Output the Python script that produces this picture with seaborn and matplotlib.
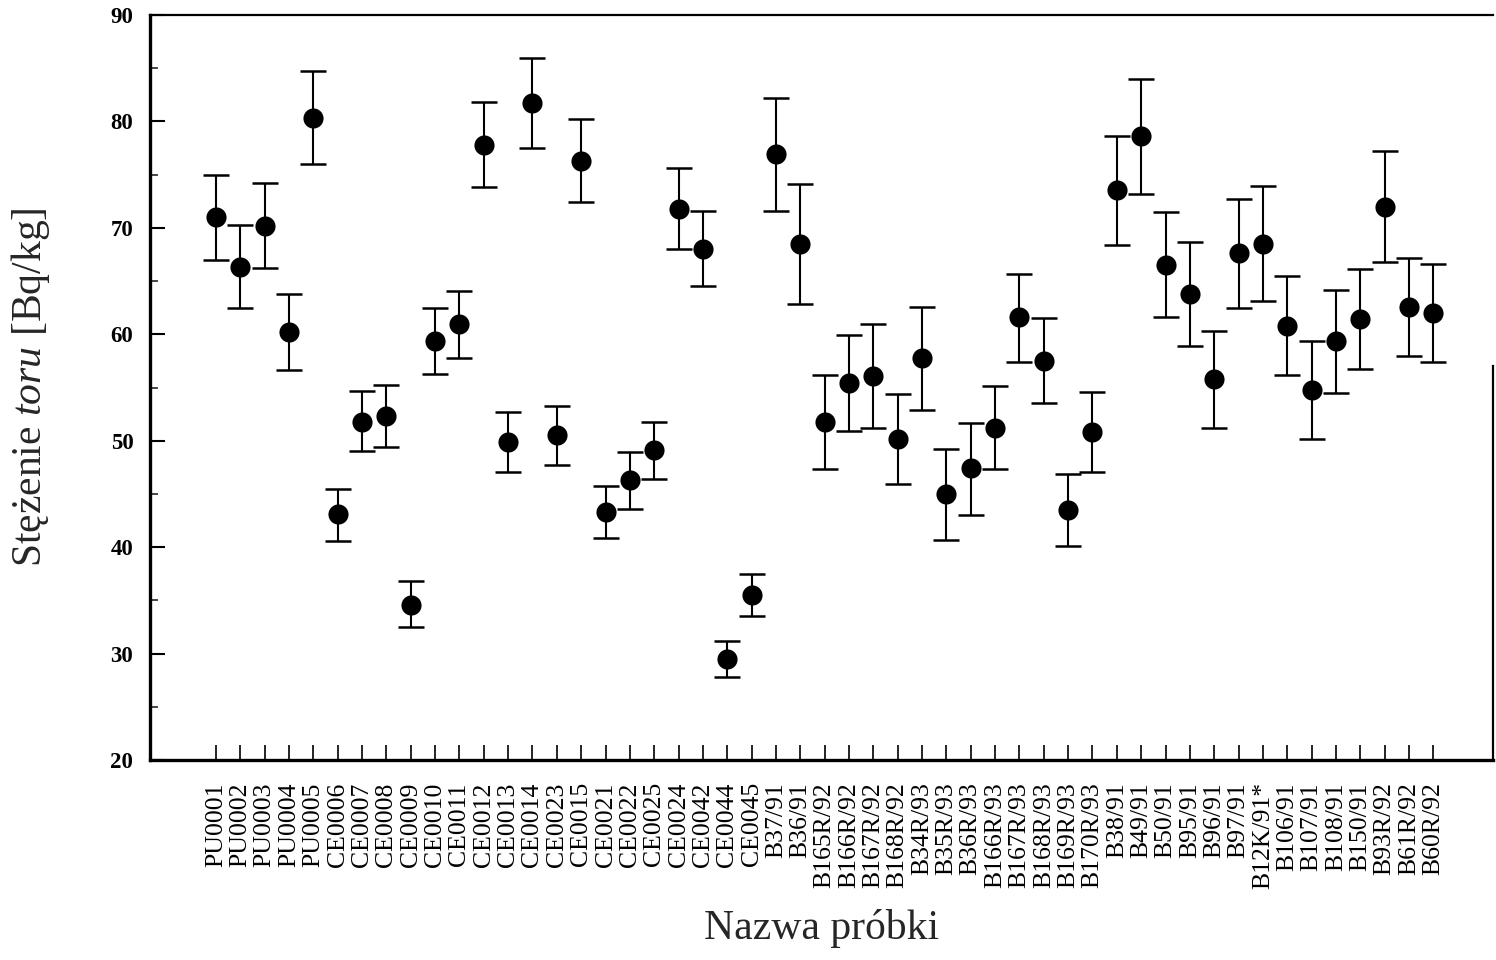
import numpy as np
import pandas as pd
import seaborn as sns
import matplotlib.pyplot as plt
from matplotlib.ticker import MultipleLocator

samples = ["PU0001", "PU0002", "PU0003", "PU0004", "PU0005", "CE0006", "CE0007",
           "CE0008", "CE0009", "CE0010", "CE0011", "CE0012", "CE0013", "CE0014",
           "CE0023", "CE0015", "CE0021", "CE0022", "CE0025", "CE0024", "CE0042",
           "CE0044", "CE0045", "B37/91", "B36/91", "B165R/92", "B166R/92",
           "B167R/92", "B168R/92", "B34R/93", "B35R/93", "B36R/93", "B166R/93",
           "B167R/93", "B168R/93", "B169R/93", "B170R/93", "B38/91", "B49/91",
           "B50/91", "B95/91", "B96/91", "B97/91", "B12K/91*", "B106/91",
           "B107/91", "B108/91", "B150/91", "B93R/92", "B61R/92", "B60R/92"]

# stezenie toru i granice niepewnosci [Bq/kg]
conc = [71.0, 66.3, 70.2, 60.2, 80.3, 43.1, 51.8, 52.3, 34.6, 59.4, 61.0, 77.8, 49.9,
        81.7, 50.5, 76.3, 43.3, 46.3, 49.1, 71.8, 68.0, 29.5, 35.5, 76.9, 68.5,
        51.8, 55.4, 56.1, 50.2, 57.8, 45.0, 47.4, 51.2, 61.6, 57.5, 43.5, 50.8,
        73.6, 78.6, 66.5, 63.8, 55.8, 67.6, 68.5, 60.8, 54.8, 59.4, 61.4, 72.0,
        62.6, 62.0]
upper = [75.0, 70.3, 74.2, 63.8, 84.7, 45.5, 54.7, 55.2, 36.8, 62.5, 64.1, 81.8, 52.7,
         86.0, 53.3, 80.2, 45.7, 48.9, 51.8, 75.6, 71.6, 31.2, 37.5, 82.2, 74.1,
         56.2, 59.9, 61.0, 54.4, 62.6, 49.2, 51.7, 55.1, 65.7, 61.5, 46.9, 54.6,
         78.6, 84.0, 71.5, 68.7, 60.3, 72.7, 73.9, 65.5, 59.4, 64.2, 66.1, 77.2,
         67.2, 66.6]
lower = [67.0, 62.5, 66.2, 56.6, 76.0, 40.6, 49.0, 49.4, 32.5, 56.3, 57.8, 73.8, 47.1,
         77.5, 47.7, 72.4, 40.9, 43.6, 46.4, 68.0, 64.5, 27.8, 33.5, 71.6, 62.8,
         47.3, 50.9, 51.2, 45.9, 52.9, 40.7, 43.0, 47.3, 57.4, 53.5, 40.1, 47.1,
         68.4, 73.2, 61.6, 58.9, 51.2, 62.5, 63.1, 56.2, 50.2, 54.5, 56.7, 66.8,
         58.0, 57.4]

df = pd.DataFrame({"probka": samples, "stezenie": conc, "gora": upper, "dol": lower})

sns.set_theme(style="ticks")
plt.rcParams["font.family"] = ["Liberation Serif", "DejaVu Serif"]
plt.rcParams["mathtext.fontset"] = "custom"
plt.rcParams["mathtext.rm"] = "Liberation Serif"
plt.rcParams["mathtext.it"] = "Liberation Serif:italic"

fig = plt.figure(figsize=(14.96, 9.6), dpi=100)
ax = fig.add_axes([150 / 1496, 200 / 960, 1343 / 1496, 745 / 960])

sns.scatterplot(data=df, x="probka", y="stezenie", ax=ax, s=210, color="black",
                edgecolor="black", linewidth=0, zorder=3)
ax.errorbar(df["probka"], df["stezenie"],
            yerr=[df["stezenie"] - df["dol"], df["gora"] - df["stezenie"]],
            fmt="none", ecolor="black", elinewidth=1.5, capsize=9.5, capthick=1.8,
            zorder=2)

ax.set_ylim(20, 90)
ax.set_xlim(-2.71, 52.45)
ax.yaxis.set_major_locator(MultipleLocator(10))
ax.yaxis.set_minor_locator(MultipleLocator(5))

ax.tick_params(axis="x", direction="in", length=11, width=1.2, labelsize=18.5,
               rotation=90, pad=16, colors="black")
ax.tick_params(axis="y", which="major", direction="in", length=11, width=1.5,
               labelsize=16.5, pad=12, colors="black")
ax.tick_params(axis="y", which="minor", direction="in", length=6, width=1.2)
for lbl in ax.get_yticklabels():
    lbl.set_fontweight("bold")

for side, lw in [("left", 2.4), ("bottom", 2.4), ("top", 1.6), ("right", 1.6)]:
    ax.spines[side].set_linewidth(lw)
    ax.spines[side].set_color("black")
ax.spines["right"].set_bounds(20, 57)

ax.set_ylabel("Stężenie $\\mathit{toru}$ [Bq/kg]", fontsize=30)
ax.set_xlabel("Nazwa próbki", fontsize=30, va="top")
ax.yaxis.set_label_coords(-0.073, 0.5)
ax.xaxis.set_label_coords(0.5, -0.2)

fig.savefig("out.png", dpi=100)
